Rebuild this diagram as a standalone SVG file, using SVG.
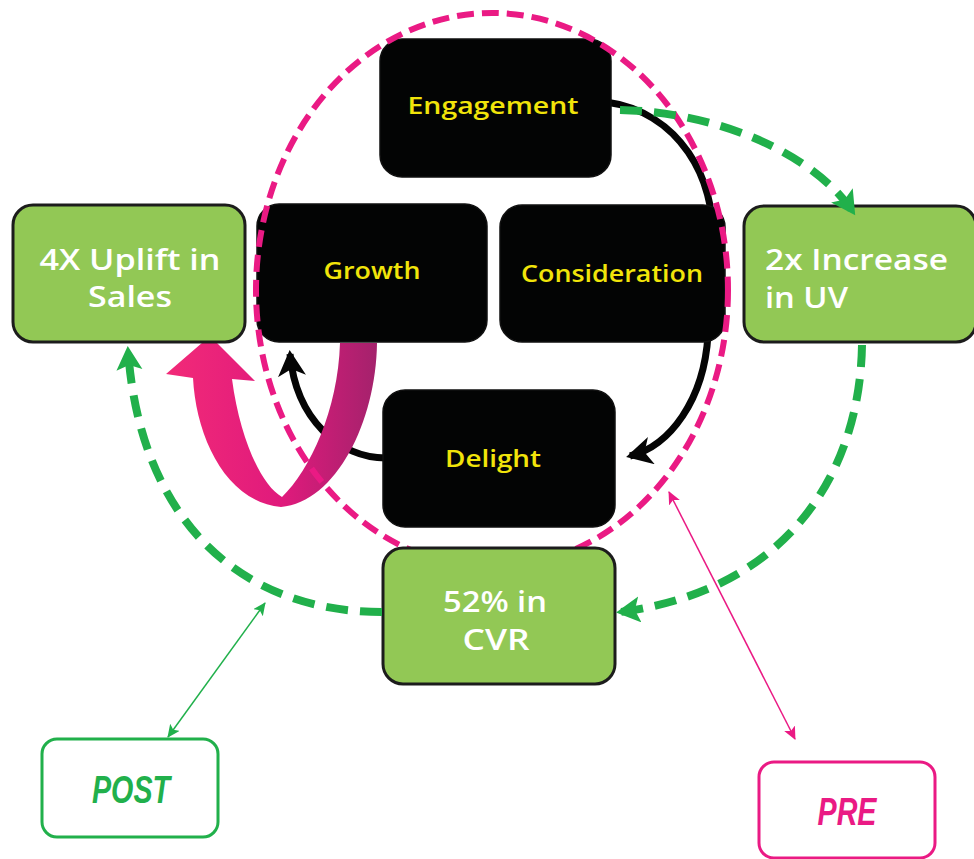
<svg xmlns="http://www.w3.org/2000/svg" width="974" height="859" viewBox="0 0 974 859">
<defs>
<style>
.blk{fill:#030404;stroke:#111;stroke-width:1.5}
.grn{fill:#92c855;stroke:#1c1c1c;stroke-width:3}
.bt{font-family:"Open Sans","DejaVu Sans",sans-serif;font-weight:600;font-size:23px;fill:#f1e40a;text-anchor:middle}
.gt{font-family:"Open Sans","DejaVu Sans",sans-serif;font-weight:600;font-size:29px;fill:#ffffff}
.lbl{font-family:"Liberation Sans",Arial,sans-serif;font-weight:bold;font-style:italic;font-size:38px;text-anchor:middle}
.cyc{fill:none;stroke:#050505;stroke-width:7}
.gd{fill:none;stroke:#21b04b;stroke-width:8;stroke-dasharray:22 12}
</style>
<marker id="ab" markerUnits="userSpaceOnUse" markerWidth="32" markerHeight="32" refX="22" refY="14" orient="auto">
<path d="M0,0 L26,14 L0,28 L7,14 Z" fill="#050505"/>
</marker>
<marker id="ag" markerUnits="userSpaceOnUse" markerWidth="30" markerHeight="30" refX="20" refY="13" orient="auto">
<path d="M0,0 L24,13 L0,26 L5,13 Z" fill="#21b04b"/>
</marker>
<marker id="tg" markerUnits="userSpaceOnUse" markerWidth="16" markerHeight="16" refX="12" refY="6" orient="auto-start-reverse">
<path d="M0,0 L13,6 L0,12 L3,6 Z" fill="#21b04b"/>
</marker>
<marker id="tp" markerUnits="userSpaceOnUse" markerWidth="16" markerHeight="16" refX="12" refY="6" orient="auto-start-reverse">
<path d="M0,0 L13,6 L0,12 L3,6 Z" fill="#ea1a84"/>
</marker>
<linearGradient id="pg" x1="0" y1="0" x2="1" y2="0">
<stop offset="0" stop-color="#f22a78"/>
<stop offset="0.55" stop-color="#e01a7c"/>
<stop offset="1" stop-color="#a4226c"/>
</linearGradient>
</defs>

<g id="cycle-connectors">
<path class="cyc" d="M606,102 C680,112 716,180 712,240 L708,335 C704,400 670,446 630,456" marker-end="url(#ab)"/>
<path class="cyc" d="M386,458 C340,458 296,420 290,354" marker-end="url(#ab)"/>
</g>

<g id="engagement"><rect class="blk" x="380" y="39" width="231" height="138" rx="22"/><text class="bt" x="493" y="114" textLength="171" lengthAdjust="spacingAndGlyphs">Engagement</text></g>
<g id="growth"><rect class="blk" x="257" y="204" width="230" height="138" rx="22"/><text class="bt" x="372" y="279" textLength="97" lengthAdjust="spacingAndGlyphs">Growth</text></g>
<g id="consideration"><rect class="blk" x="500" y="205" width="225" height="137" rx="22"/><text class="bt" x="612" y="282" textLength="182" lengthAdjust="spacingAndGlyphs">Consideration</text></g>
<g id="delight"><rect class="blk" x="383" y="390" width="232" height="137" rx="22"/><text class="bt" x="493" y="467" textLength="96" lengthAdjust="spacingAndGlyphs">Delight</text></g>

<g id="pink-arrow">
<path d="M340,343 L377,343 C376,422 336,502 281,507 C226,502 196,437 193,378 L166,374 L210,336 L255,381 L232,379 C240,440 262,486 282,497 C310,470 338,410 340,343 Z" fill="url(#pg)"/>
</g>

<g id="pink-ring">
<ellipse cx="492" cy="290" rx="236" ry="277" fill="none" stroke="#ea1a84" stroke-width="6" stroke-dasharray="17 8"/>
</g>

<g id="uplift"><rect class="grn" x="13" y="205" width="232" height="137" rx="20"/><text class="gt" text-anchor="middle"><tspan x="130" y="270" textLength="181" lengthAdjust="spacingAndGlyphs">4X Uplift in</tspan><tspan x="130" y="307" textLength="84" lengthAdjust="spacingAndGlyphs">Sales</tspan></text></g>
<g id="increase"><rect class="grn" x="744" y="206" width="232" height="136" rx="20"/><text class="gt"><tspan x="765" y="270" textLength="183" lengthAdjust="spacingAndGlyphs">2x Increase</tspan><tspan x="765" y="308" textLength="83" lengthAdjust="spacingAndGlyphs">in UV</tspan></text></g>
<g id="cvr"><rect class="grn" x="383" y="548" width="232" height="136" rx="20"/><text class="gt" text-anchor="middle"><tspan x="495" y="612" textLength="104" lengthAdjust="spacingAndGlyphs">52% in</tspan><tspan x="496" y="650" textLength="67" lengthAdjust="spacingAndGlyphs">CVR</tspan></text></g>

<g id="connectors">
<path class="gd" d="M620,110 C720,112 815,155 853,212" marker-end="url(#ag)"/>
<path class="gd" d="M862,345 C860,470 790,590 620,612" marker-end="url(#ag)"/>
<path class="gd" d="M382,612 C240,612 140,520 128,350" marker-end="url(#ag)"/>
<line x1="265" y1="603" x2="168" y2="737" stroke="#21b04b" stroke-width="1.5" marker-start="url(#tg)" marker-end="url(#tg)"/>
<line x1="669" y1="492" x2="795" y2="739" stroke="#ea1a84" stroke-width="1.5" marker-start="url(#tp)" marker-end="url(#tp)"/>
</g>

<g id="post"><rect x="42" y="739" width="176" height="98" rx="15" fill="#fff" stroke="#21b04b" stroke-width="3"/><text class="lbl" x="131" y="803" fill="#21b04b" textLength="78" lengthAdjust="spacingAndGlyphs">POST</text></g>
<g id="pre"><rect x="759" y="762" width="176" height="96" rx="15" fill="#fff" stroke="#ea1a84" stroke-width="3"/><text class="lbl" x="847" y="825" fill="#ea1a84" textLength="59" lengthAdjust="spacingAndGlyphs">PRE</text></g>
</svg>
